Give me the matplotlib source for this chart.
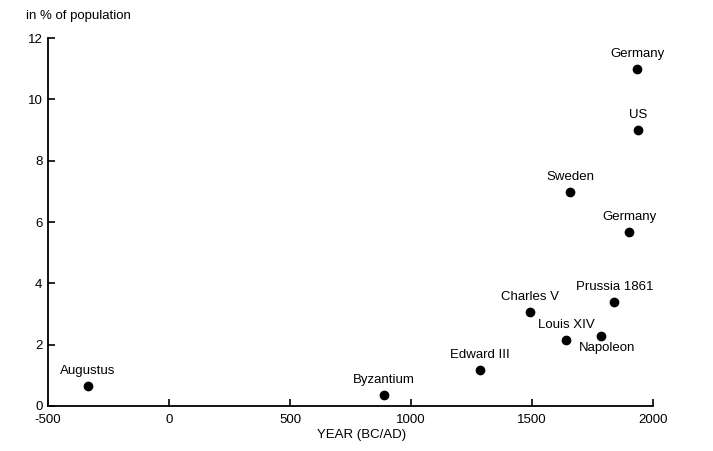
import matplotlib.pyplot as plt

# Data
labels = ['Augustus', 'Byzantium', 'Edward III', 'Charles V', 'Louis XIV',
          'Napoleon', 'Prussia 1861', 'Sweden', 'Germany', 'US', 'Germany']
years = [-335, 888, 1285, 1492, 1640, 1785, 1840, 1657, 1935, 1938, 1901]
share = [0.65, 0.35, 1.17, 3.07, 2.15, 2.28, 3.39, 6.98, 11.0, 9.0, 5.67]

plt.rcParams['font.family'] = ['Liberation Sans', 'DejaVu Sans']
plt.rcParams['axes.unicode_minus'] = False

fig = plt.figure(figsize=(7.13, 4.51), dpi=100)
ax = fig.add_axes([0.0673, 0.0998, 0.8486, 0.8159])

ax.plot(years, share, 'o', color='black', markersize=6, linestyle='none')

for lab, x, y in zip(labels, years, share):
    if lab == 'Napoleon':
        off = (6, -12)
    else:
        off = (0, 15)
    ax.annotate(lab, xy=(x, y), xytext=off, textcoords='offset pixels',
                ha='center', va='center', fontsize=9.5)

ax.set_xlim(-500, 2000)
ax.set_ylim(0, 12)
ax.set_xticks([-500, 0, 500, 1000, 1500, 2000])
ax.set_yticks([0, 2, 4, 6, 8, 10, 12])

for s in ['top', 'right']:
    ax.spines[s].set_visible(False)
for s in ['left', 'bottom']:
    ax.spines[s].set_linewidth(1.3)

ax.tick_params(direction='in', length=5, width=1.2, labelsize=9.5)
ax.tick_params(axis='x', pad=6)
ax.tick_params(axis='y', pad=4)

fig.text(362 / 713, 1 - 435 / 451, 'YEAR (BC/AD)', fontsize=9.5,
         ha='center', va='center')
fig.text(26 / 713, 1 - 16 / 451, 'in % of population', fontsize=9.5,
         ha='left', va='center')

fig.savefig('out.png', dpi=100)
